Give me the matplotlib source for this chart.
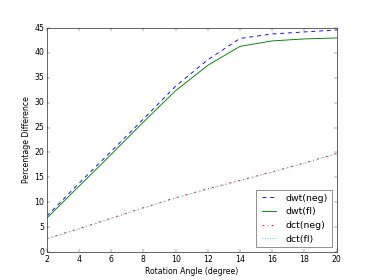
import matplotlib
matplotlib.use('Agg')
import matplotlib.pyplot as plt

# Значения
angles = [2, 4, 6, 8, 10, 12, 14, 16, 18, 20]
dwt_neg = [7.2, 13.8, 20.2, 26.7, 33.3, 38.6, 42.9, 43.8, 44.2, 44.6]
dwt_fl = [6.8, 13.2, 19.6, 26.1, 32.4, 37.5, 41.3, 42.4, 42.8, 43.0]
dct_neg = [2.7, 4.7, 6.8, 8.9, 10.9, 12.7, 14.4, 16.1, 17.9, 19.8]
dct_fl = [2.6, 4.6, 6.7, 8.8, 10.8, 12.6, 14.3, 16.0, 17.8, 19.7]


def main():
    plt.style.use('classic')
    plt.rcParams['lines.linewidth'] = 1.4
    plt.rcParams['axes.linewidth'] = 1.4
    plt.rcParams['axes.edgecolor'] = '0.35'
    plt.figure(figsize=(8, 5.99))
    plt.plot(angles, dwt_neg, 'b--', label='dwt(neg)')
    plt.plot(angles, dwt_fl, 'g-', label='dwt(fl)')
    plt.plot(angles, dct_neg, 'r-.', label='dct(neg)')
    plt.plot(angles, dct_fl, 'c:', label='dct(fl)')

    plt.xlim(2, 20)
    plt.ylim(0, 45)
    plt.xticks(range(2, 21, 2))
    plt.xlabel('Rotation Angle (degree)')
    plt.ylabel('Percentage Difference')
    plt.legend(loc='lower right')
    plt.savefig('out.png', dpi=46.75, facecolor='white')


if __name__ == "__main__":
    main()
